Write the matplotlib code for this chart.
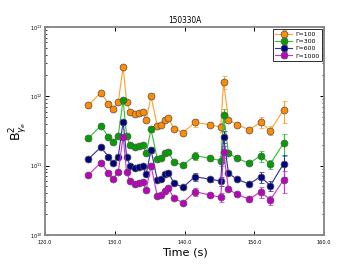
import matplotlib
matplotlib.use("Agg")
import matplotlib.pyplot as plt
import numpy as np

time_s = [126.2, 128.0, 129.1, 129.7, 130.5, 131.2, 131.7, 132.2, 132.9, 133.5,
          134.0, 134.5, 135.2, 136.1, 136.7, 137.2, 137.7, 138.5, 139.8, 141.5,
          143.6, 145.2, 145.6, 146.3, 147.5, 149.3, 150.9, 152.3, 154.2]

b_g100 = [7.4e11, 1.13e12, 7.8e11, 6.6e11, 8.2e11, 2.67e12, 8.3e11, 6.0e11, 5.6e11, 5.8e11,
          6.0e11, 4.5e11, 1.01e12, 3.7e11, 3.8e11, 4.56e11, 4.8e11, 3.4e11, 3.0e11, 4.2e11,
          3.9e11, 3.6e11, 1.61e12, 4.6e11, 3.9e11, 3.3e11, 4.2e11, 3.2e11, 6.4e11]
b_g300 = [2.48e11, 3.73e11, 2.62e11, 2.17e11, 2.71e11, 8.85e11, 2.68e11, 1.99e11, 1.84e11, 1.92e11,
          1.99e11, 1.51e11, 3.34e11, 1.24e11, 1.28e11, 1.51e11, 1.59e11, 1.11e11, 1.02e11, 1.39e11,
          1.28e11, 1.18e11, 5.38e11, 1.51e11, 1.28e11, 1.08e11, 1.39e11, 1.06e11, 2.10e11]
b_g600 = [1.24e11, 1.84e11, 1.35e11, 1.08e11, 1.35e11, 4.31e11, 1.35e11, 9.98e10, 9.16e10, 9.47e10,
          9.89e10, 7.50e10, 1.68e11, 6.21e10, 6.36e10, 7.58e10, 7.91e10, 5.53e10, 4.88e10, 6.93e10,
          6.36e10, 6.01e10, 2.62e11, 7.76e10, 6.36e10, 5.43e10, 6.93e10, 5.14e10, 1.06e11]
b_g1000 = [7.33e10, 1.10e11, 7.91e10, 6.42e10, 8.02e10, 2.62e11, 8.02e10, 6.01e10, 5.43e10, 5.68e10,
           5.87e10, 4.46e10, 9.98e10, 3.65e10, 3.77e10, 4.36e10, 4.71e10, 3.36e10, 2.92e10, 4.21e10,
           3.77e10, 3.50e10, 1.59e11, 4.56e10, 3.86e10, 3.27e10, 4.21e10, 3.20e10, 6.21e10]

rel_err = [0.08, 0.05, 0.05, 0.04, 0.04, 0.05, 0.04, 0.04, 0.04, 0.04,
           0.04, 0.04, 0.10, 0.04, 0.04, 0.04, 0.04, 0.05, 0.05, 0.13,
           0.08, 0.15, 0.20, 0.06, 0.06, 0.05, 0.18, 0.15, 0.35]

labels = ["Γ=100", "Γ=300", "Γ=600", "Γ=1000"]
series = [b_g100, b_g300, b_g600, b_g1000]
face_colors = ["#ff8c00", "#00a000", "#000080", "#c000c0"]
line_colors = ["#ffa030", "#30c030", "#3030a0", "#d030d0"]

x_ticks = [120, 130, 140, 150, 160]
x_tick_labels = ["120.0", "130.0", "140.0", "150.0", "160.0"]

fig = plt.figure(figsize=(4, 3), dpi=90)
ax = fig.add_axes([0.125, 0.13, 0.775, 0.77])

for vals, lab, fc, lc in zip(series, labels, face_colors, line_colors):
    v = np.array(vals)
    err = v * np.array(rel_err)
    ax.errorbar(time_s, v, yerr=err, fmt='-o', color=lc, ecolor=lc,
                markerfacecolor=fc, markeredgecolor='#555555', markeredgewidth=0.6,
                markersize=5.5, linewidth=0.9, elinewidth=0.9, capsize=2, capthick=0.8,
                label=lab)

ax.set_yscale('log')
ax.set_xlim(120, 160)
ax.set_ylim(1e10, 1e13)
ax.set_xticks(x_ticks)
ax.set_xticklabels(x_tick_labels)
ax.tick_params(which='both', direction='in', top=True, right=True, labelsize=4)
ax.tick_params(axis='x', pad=4)
ax.tick_params(axis='y', pad=2)
ax.tick_params(which='major', length=3)
ax.tick_params(which='minor', length=1.5)
for sp in ax.spines.values():
    sp.set_color('#888888')
    sp.set_linewidth(1.5)

ax.set_title("150330A", fontsize=6, pad=3)
ax.set_xlabel("Time (s)", fontsize=9, labelpad=2)
ax.set_ylabel(r"B$_{\gamma_e}^{2}$", fontsize=10, labelpad=1)

leg = ax.legend(loc='upper right', fontsize=5, frameon=True, fancybox=False,
                borderaxespad=0.3, handlelength=2.6, labelspacing=0.3,
                borderpad=0.4, handletextpad=0.6)
leg.get_frame().set_edgecolor('black')
leg.get_frame().set_linewidth(0.8)

fig.savefig("out.png", dpi=90)
